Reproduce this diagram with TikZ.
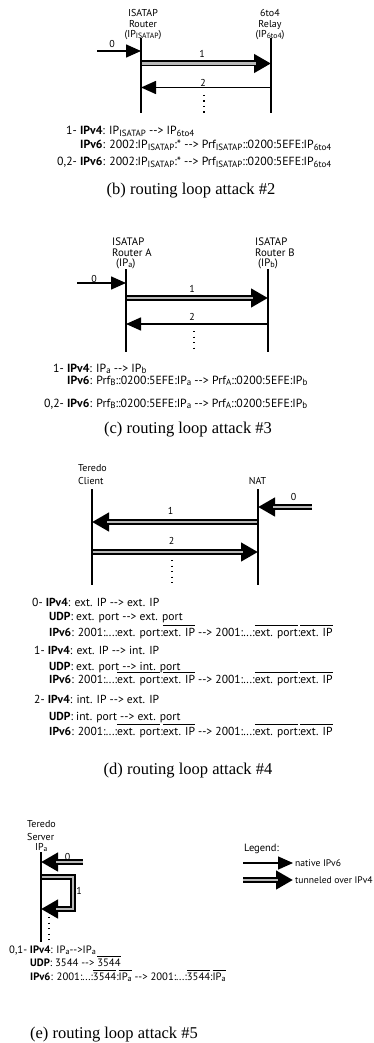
\documentclass[tikz,border=0pt]{standalone}
\usepackage{fontspec}
\usepackage{graphicx}
\setmainfont{Liberation Serif}
\newfontfamily\dgf{PT Sans}
\usetikzlibrary{arrows.meta}

% small lowered index letters (IP_a, Prf_B, IP_ISATAP ...)
\newcommand\sbs[1]{\raisebox{-0.3ex}{\scalebox{0.76}{#1}}}
% "-->" written out so that no dash ligature is formed
\newcommand\dto{-\kern0pt-\kern0pt>}
% bar over an obfuscated field
\newcommand\ovl[1]{\setbox0=\hbox{#1}\rlap{\rule[0.88em]{\wd0}{0.6pt}}\box0\relax}

\tikzset{
  life/.style={line width=2.6pt},
  nat/.style={line width=1.5pt, -{Triangle[length=15pt,width=13pt]}},
  tun/.style={line width=6pt, line join=miter, -{Triangle[length=17pt,width=18pt]},
              postaction={draw=gray!55, line width=2.4pt, shorten >=15pt, -}},
  dotcol/.style={line width=1.2pt, dash pattern=on 1.2pt off 4.3pt},
  lbl/.style={font=\dgf\fontsize{10}{10.3}\selectfont, inner sep=0pt},
  lblc/.style={font=\dgf\fontsize{10.8}{10.2}\selectfont, inner sep=0pt},
  lbld/.style={font=\dgf\fontsize{10}{13}\selectfont, inner sep=0pt},
  num/.style={font=\dgf\fontsize{10}{10}\selectfont, inner sep=0pt},
  txt/.style={font=\dgf\fontsize{11.6}{13}\selectfont, inner sep=0pt, anchor=base west},
  txtb/.style={font=\dgf\fontsize{11.8}{13}\selectfont, inner sep=0pt, anchor=base west},
  txte/.style={font=\dgf\fontsize{10.7}{11}\selectfont, inner sep=0pt, anchor=base west},
  leg/.style={font=\dgf\fontsize{9.6}{10}\selectfont, inner sep=0pt, anchor=west},
  capt/.style={font=\fontsize{16.5}{18}\selectfont, inner sep=0pt, anchor=base},
}

\begin{document}
\begin{tikzpicture}[x=1pt, y=-1pt]
\useasboundingbox (0,0) rectangle (374,1043);

%%%%%%%%%%%%%%%% (b) ISATAP router <-> 6to4 relay
\node[lbl, align=center, anchor=north] (bLlab) at (143,9.5) {ISATAP\\Router\\(IP\sbs{ISATAP})};
\node[lbl, align=center, anchor=north] (bRlab) at (270,9.5) {6to4\\Relay\\(IP\sbs{6to4})};
\coordinate (bLt) at (141,38);  \coordinate (bLb) at (141,113);
\coordinate (bRt) at (271,38);  \coordinate (bRb) at (271,113);
\coordinate (b0s) at (97,51);    \coordinate (b0e) at (141,51);
\coordinate (b1s) at (141,63.5); \coordinate (b1e) at (271,63.5);
\coordinate (b2s) at (271,87.5); \coordinate (b2e) at (141,87.5);
\coordinate (bDt) at (204,95);   \coordinate (bDb) at (204,113);
\draw[nat] (b0s) -- (b0e);
\draw[tun] (b1s) -- (b1e);
\draw[nat] (b2s) -- (b2e);
\draw[dotcol] (bDt) -- (bDb);
\draw[life] (bLt) -- (bLb);
\draw[life] (bRt) -- (bRb);
\node[num] (bn0) at (112,44.5) {0};
\node[num] (bn1) at (202,54) {1};
\node[num] (bn2) at (203,83) {2};

\node[txtb] (bt1) at (66,135) {1- \textbf{IPv4}: IP\sbs{ISATAP} \dto\ IP\sbs{6to4}};
\node[txtb] (bt2) at (80,149) {\textbf{IPv6}: 2002:IP\sbs{ISATAP}:* \dto\ Prf\sbs{ISATAP}::0200:5EFE:IP\sbs{6to4}};
\node[txtb] (bt3) at (57,166) {0,2- \textbf{IPv6}: 2002:IP\sbs{ISATAP}:* \dto\ Prf\sbs{ISATAP}::0200:5EFE:IP\sbs{6to4}};
\node[capt] (bcap) at (191,194) {(b) routing loop attack \#2};

%%%%%%%%%%%%%%%% (c) ISATAP router A <-> ISATAP router B
\node[lblc, align=left, anchor=north west] (cLlab) at (112,238) {ISATAP\\Router A\\\hspace*{4pt}(IP\sbs{a})};
\node[lblc, align=left, anchor=north west] (cRlab) at (255,238) {ISATAP\\Router B\\\hspace*{3pt}(IP\sbs{b})};
\coordinate (cLt) at (126,269);  \coordinate (cLb) at (126,352);
\coordinate (cRt) at (268,269);  \coordinate (cRb) at (268,352);
\coordinate (c0s) at (77,283);   \coordinate (c0e) at (126,283);
\coordinate (c1s) at (126,298);  \coordinate (c1e) at (268,298);
\coordinate (c2s) at (268,324);  \coordinate (c2e) at (126,324);
\coordinate (cDt) at (194,331);  \coordinate (cDb) at (194,352);
\draw[nat] (c0s) -- (c0e);
\draw[tun] (c1s) -- (c1e);
\draw[nat] (c2s) -- (c2e);
\draw[dotcol] (cDt) -- (cDb);
\draw[life] (cLt) -- (cLb);
\draw[life] (cRt) -- (cRb);
\node[num] (cn0) at (94,278.5) {0};
\node[num] (cn1) at (192,288.5) {1};
\node[num] (cn2) at (192,316.5) {2};

\node[txtb] (ct1) at (53,372) {1- \textbf{IPv4}: IP\sbs{a} \dto\ IP\sbs{b}};
\node[txtb] (ct2) at (67,384) {\textbf{IPv6}: Prf\sbs{B}::0200:5EFE:IP\sbs{a} \dto\ Prf\sbs{A}::0200:5EFE:IP\sbs{b}};
\node[txtb] (ct3) at (44,407) {0,2- \textbf{IPv6}: Prf\sbs{B}::0200:5EFE:IP\sbs{a} \dto\ Prf\sbs{A}::0200:5EFE:IP\sbs{b}};
\node[capt] (ccap) at (188,433) {(c) routing loop attack \#3};

%%%%%%%%%%%%%%%% (d) Teredo client <-> NAT
\node[lbld, align=left, anchor=north west] (dLlab) at (78,464) {Teredo\\Client};
\node[lbld, anchor=base] (dRlab) at (257.5,484) {NAT};
\coordinate (dLt) at (92,489);   \coordinate (dLb) at (92,585);
\coordinate (dRt) at (258,489);  \coordinate (dRb) at (258,585);
\coordinate (d0s) at (312,507);  \coordinate (d0e) at (258,507);
\coordinate (d1s) at (258,522);  \coordinate (d1e) at (92,522);
\coordinate (d2s) at (92,552);   \coordinate (d2e) at (258,552);
\coordinate (dDt) at (172,560);  \coordinate (dDb) at (172,585);
\draw[tun] (d0s) -- (d0e);
\draw[tun] (d1s) -- (d1e);
\draw[tun] (d2s) -- (d2e);
\draw[dotcol] (dDt) -- (dDb);
\draw[life] (dLt) -- (dLb);
\draw[life] (dRt) -- (dRb);
\node[num] (dn0) at (293.5,497) {0};
\node[num] (dn1) at (170.5,511) {1};
\node[num] (dn2) at (171.5,541) {2};

\node[txt] (dt01) at (32,606) {0- \textbf{IPv4}: ext. IP \dto\ ext. IP};
\node[txt] (dt02) at (49,620) {\textbf{UDP}: ext. port \dto\ ext. port};
\node[txt] (dt03) at (49,636) {\textbf{IPv6}: 2001:...:ext. port:\ovl{ext. IP} \dto\ 2001:...:\ovl{ext. port}:\ovl{ext. IP}};
\node[txt] (dt11) at (34,654) {1- \textbf{IPv4}: ext. IP \dto\ int. IP};
\node[txt] (dt12) at (49,670) {\textbf{UDP}: ext. port \dto\ int. port};
\node[txt] (dt13) at (49,683) {\textbf{IPv6}: 2001:...:\ovl{ext. port}:\ovl{ext. IP} \dto\ 2001:...:\ovl{ext. port}:\ovl{ext. IP}};
\node[txt] (dt21) at (34,703) {2- \textbf{IPv4}: int. IP \dto\ ext. IP};
\node[txt] (dt22) at (49,720) {\textbf{UDP}: int. port \dto\ ext. port};
\node[txt] (dt23) at (49,735) {\textbf{IPv6}: 2001:...:\ovl{ext. port}:\ovl{ext. IP} \dto\ 2001:...:\ovl{ext. port}:\ovl{ext. IP}};
\node[capt] (dcap) at (188,774) {(d) routing loop attack \#4};

%%%%%%%%%%%%%%%% (e) Teredo server talking to itself
\node[lbld, align=left, anchor=north west] (eLlab) at (27,820) {Teredo\\Server};
\node[lbl, anchor=base west] (eIP) at (35,850) {IP\sbs{a}};
\coordinate (eLt) at (41,852);   \coordinate (eLb) at (41,942);
\coordinate (e0s) at (83,862);   \coordinate (e0e) at (41,862);
\coordinate (e1s) at (41,877);   \coordinate (e1a) at (73,877);
\coordinate (e1b) at (73,909);   \coordinate (e1e) at (41,909);
\coordinate (eDt) at (49,917);   \coordinate (eDb) at (49,940);
\draw[tun] (e0s) -- (e0e);
\draw[tun] (e1s) -- (e1a) -- (e1b) -- (e1e);
\draw[dotcol] (eDt) -- (eDb);
\draw[life] (eLt) -- (eLb);
\node[num] (en0) at (67.5,857) {0};
\node[num] (en1) at (79,891) {1};

\node[txte] (et1) at (9,953) {0,1- \textbf{IPv4}: IP\sbs{a}\dto IP\sbs{a}};
\node[txte] (et2) at (30,966) {\textbf{UDP}: 3544 \dto\ \ovl{3544}};
\node[txte] (et3) at (30,980) {\textbf{IPv6}: 2001:...:\ovl{3544}:\ovl{IP\sbs{a}} \dto\ 2001:...:\ovl{3544}:\ovl{IP\sbs{a}}};
\node[capt] (ecap) at (114,1038) {(e) routing loop attack \#5};

%%%%%%%%%%%%%%%% legend
\node[lbl, anchor=base west, font=\dgf\fontsize{10.5}{12}\selectfont] (legT) at (244,851) {Legend:};
\coordinate (lg1s) at (243,863); \coordinate (lg1e) at (293,863);
\coordinate (lg2s) at (243,880); \coordinate (lg2e) at (293,880);
\draw[nat] (lg1s) -- (lg1e);
\draw[tun] (lg2s) -- (lg2e);
\node[leg] (lgn) at (295,863) {native IPv6};
\node[leg] (lgt) at (295,880) {tunneled over IPv4};
\end{tikzpicture}
\end{document}
